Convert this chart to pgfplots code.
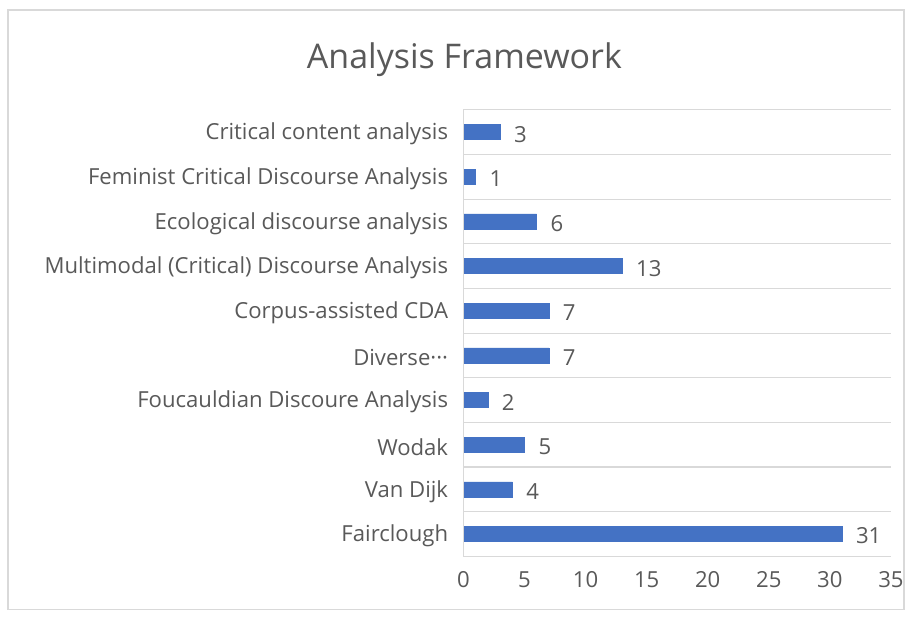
\documentclass[border=0pt]{standalone}
\usepackage{fontspec}
\setmainfont{Open Sans}
\usepackage{pgfplots}
\pgfplotsset{compat=1.18}
\definecolor{barblue}{HTML}{4472C4}
\definecolor{txtgray}{HTML}{595959}
\definecolor{gridgray}{HTML}{D9D9D9}
\begin{document}
\begin{tikzpicture}[x=1pt,y=1pt]
% canvas and frame
\fill[white] (-348,-46.5) rectangle (333,417.75);
\draw[gridgray, line width=1pt] (-342,-39.75) rectangle (330.75,410.25);
\begin{axis}[
  at={(0,0)}, anchor=south west,
  scale only axis,
  width=321pt, height=335.25pt,
  xbar, bar width=11.25pt,
  xmin=0, xmax=35,
  ymin=-0.5, ymax=9.5,
  xtick={0,5,...,35},
  ytick={0,...,9},
  yticklabels={Fairclough,Van Dijk,Wodak,Foucauldian Discoure Analysis,Diverse···,Corpus-assisted CDA,Multimodal (Critical) Discourse Analysis,Ecological discourse analysis,Feminist Critical Discourse Analysis,Critical content analysis},
  minor ytick={-0.5,0.5,...,9.5},
  yminorgrids=true,
  minor grid style={gridgray, line width=0.9pt},
  axis line style={draw=none},
  major tick length=0pt, minor tick length=0pt,
  tick label style={font=\fontsize{16.6}{18}\selectfont, text=txtgray},
  /pgf/number format/assume math mode=true,
  xticklabel style={yshift=-8pt},
  yticklabel style={xshift=-8pt, yshift=-1.5pt},
  nodes near coords,
  nodes near coords style={font=\fontsize{16.6}{18}\selectfont, text=txtgray, xshift=7pt, yshift=-1.5pt},
  clip=false,
]
\addplot[fill=barblue, draw=barblue] coordinates {
  (31,0) (4,1) (5,2) (2,3) (7,4) (7,5) (13,6) (6,7) (1,8) (3,9)
};
\draw[gridgray, line width=0.9pt] (axis cs:0,-0.5) -- (axis cs:0,9.5);
\end{axis}
\node[text=txtgray, font=\fontsize{25.5}{28}\selectfont] at (0.75pt,373pt) {Analysis Framework};
\end{tikzpicture}
\end{document}
